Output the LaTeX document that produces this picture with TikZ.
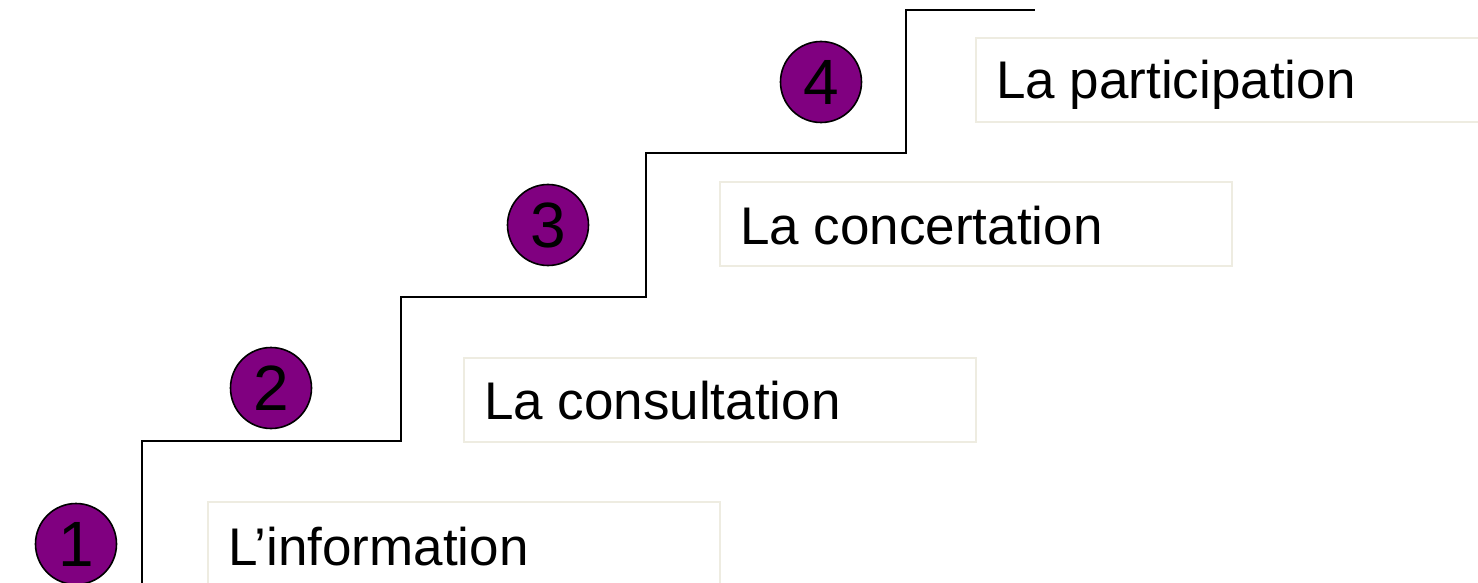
\documentclass[tikz,border=0pt]{standalone}
\usepackage{fontspec}
\setmainfont{Liberation Sans}
\begin{document}
\begin{tikzpicture}[x=1pt,y=-1pt,
  stairline/.style={draw=black,line width=1.8pt},
  stepbox/.style={draw={rgb,255:red,238;green,236;blue,225},line width=1.8pt,fill=white,
    minimum width=512pt,minimum height=84pt,inner sep=0pt,anchor=north west},
  steptext/.style={anchor=base west,inner sep=0pt,font=\fontsize{53pt}{60pt}\selectfont},
  stepnum/.style={circle,draw=black,line width=1.6pt,fill={rgb,255:red,128;green,0;blue,128},
    minimum size=81pt,inner sep=0pt,font=\fontsize{64pt}{70pt}\selectfont}]
\useasboundingbox (0,0) rectangle (1478,583);
\clip (0,0) rectangle (1478,583);
% stairs
\coordinate (s0) at (142,590);
\coordinate (s1) at (142,441);
\coordinate (s2) at (401,441);
\coordinate (s3) at (401,297);
\coordinate (s4) at (646,297);
\coordinate (s5) at (646,153);
\coordinate (s6) at (906,153);
\coordinate (s7) at (906,10);
\coordinate (s8) at (1035,10);
\draw[stairline] (s0) -- (s1) -- (s2) -- (s3) -- (s4) -- (s5) -- (s6) -- (s7) -- (s8);
% boxes
\node[stepbox] (b1) at (207,501) {};
\node[stepbox] (b2) at (463,357) {};
\node[stepbox] (b3) at (719,181) {};
\node[stepbox] (b4) at (975,37) {};
\node[steptext] (t1) at (228,565) {L’information};
\node[steptext] (t2) at (484,419) {La consultation};
\node[steptext] (t3) at (740,244) {La concertation};
\node[steptext] (t4) at (996,99) {La participation};
% numbers
\node[stepnum] (n1) at (76,544) {1};
\node[stepnum] (n2) at (271,388) {2};
\node[stepnum] (n3) at (548,225) {3};
\node[stepnum] (n4) at (821,82) {4};
\end{tikzpicture}
\end{document}
